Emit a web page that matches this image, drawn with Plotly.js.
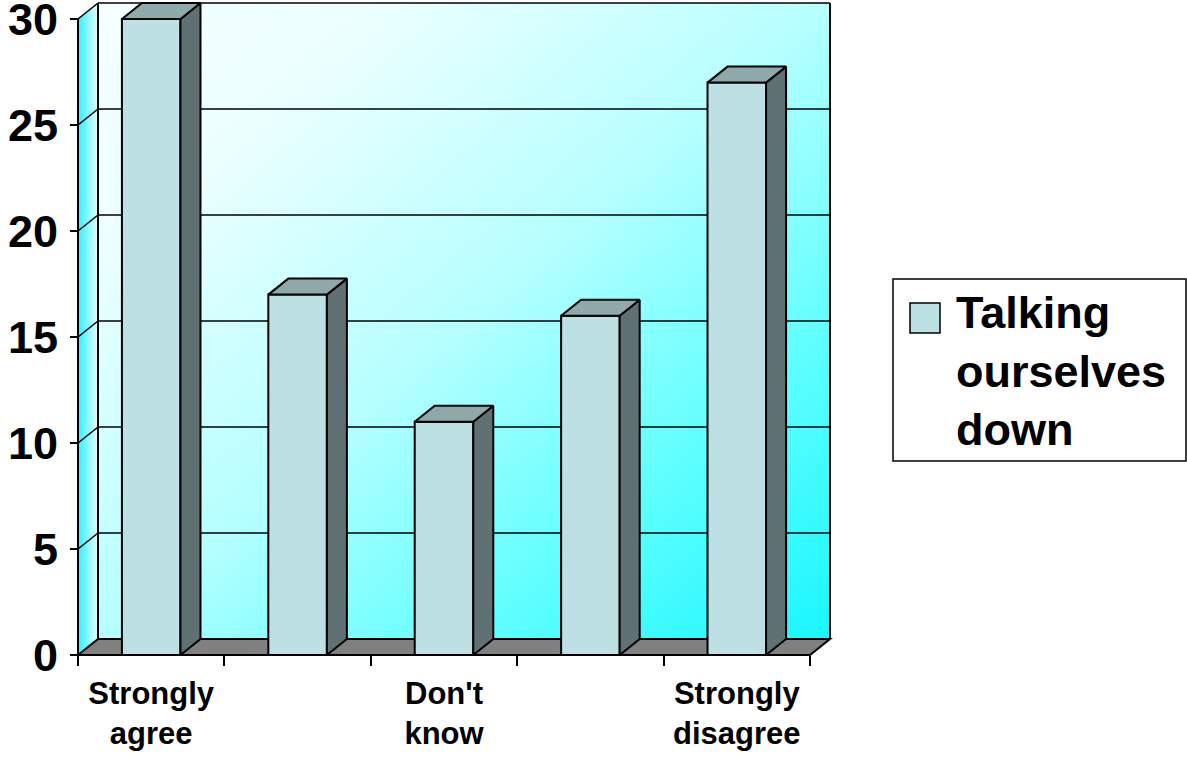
<!DOCTYPE html>
<html><head><meta charset="utf-8">
<script src="https://cdn.plot.ly/plotly-3.0.1.min.js"></script>
<style>html,body{margin:0;padding:0;background:#fff;} #chart{width:1187px;height:757px;}</style>
</head><body><div id="chart"></div>
<script>
// ---- data ----
const categories = ["Strongly agree", "Agree", "Don't know", "Disagree", "Strongly disagree"];
const values = [30, 17, 11, 16, 27];
const seriesName = "Talking ourselves down";
const yTicks = [0, 5, 10, 15, 20, 25, 30];
const labelledCategories = [0, 2, 4];

// ---- styling / geometry ----
const FONT = "Liberation Sans, Arial, sans-serif";
const PXX = 146.4, PXY = 21.2, PAD = 3;   // px per category, px per unit
const DXP = 20, DYP = 16;                  // 3-D depth offset in px
const dx = DXP / PXX, dy = DYP / PXY;
const n = categories.length;
const xMin = -0.5, xMax = n - 0.5;
const yMax = yTicks[yTicks.length - 1];
const halfW = 0.2;
const FRONT = '#bce0e3', SIDE = '#5f7172', TOP = '#8fa9aa', FLOOR = '#808080';

const plotW = (xMax - xMin) * PXX + DXP + 2 * PAD;
const plotH = yMax * PXY + DYP + 2 * PAD;
const mL = 78 - PAD, mB = 757 - 655 - PAD;
const mT = 757 - mB - plotH;
const mR = 1187 - mL - plotW;
const pX = px => (px - mL) / plotW;
const pY = py => (757 - mB - py) / plotH;

// ---- bar side and top faces, derived from values ----
const sideX = [], sideY = [], topX = [], topY = [];
values.forEach((v, i) => {
  const l = i - halfW, r = i + halfW;
  sideX.push(r, r + dx, r + dx, r, r, null); sideY.push(0, dy, v + dy, v, 0, null);
  topX.push(l, l + dx, r + dx, r, l, null);  topY.push(v, v + dy, v + dy, v, v, null);
});

// ---- walls background (gradient) ----
const W = (xMax - xMin) * PXX + DXP, H = yMax * PXY + DYP;
const svg = `<svg xmlns="http://www.w3.org/2000/svg" width="${W}" height="${H}" viewBox="0 0 ${W} ${H}" preserveAspectRatio="none">
<defs><linearGradient id="bw" x1="0" y1="0" x2="1" y2="1">
<stop offset="0" stop-color="#f6ffff"/><stop offset="0.2" stop-color="#ecffff"/><stop offset="0.5" stop-color="#b6ffff"/><stop offset="0.75" stop-color="#62ffff"/><stop offset="1" stop-color="#18f6ff"/></linearGradient>
<linearGradient id="lw" x1="0" y1="0" x2="1" y2="0"><stop offset="0" stop-color="#2ef0ff"/><stop offset="1" stop-color="#e6ffff"/></linearGradient></defs>
<rect x="${DXP}" y="0" width="${W - DXP}" height="${H - DYP}" fill="url(#bw)"/>
<polygon points="0,${DYP} ${DXP},0 ${DXP},${H - DYP} 0,${H}" fill="url(#lw)"/></svg>`;

// ---- shapes: wall outlines, gridlines, floor ----
const ln = (x0, y0, x1, y1, w) => ({type: 'line', xref: 'x', yref: 'y', x0, y0, x1, y1, layer: 'between', line: {color: '#000', width: w || 2}});
const shapes = [];
yTicks.forEach(v => {
  if (v === 0) return;
  shapes.push(ln(xMin, v, xMin + dx, v + dy, 1.6));
  shapes.push(ln(xMin + dx, v + dy, xMax + dx, v + dy, 1.6));
});
shapes.push(ln(xMin, 0, xMin, yMax));
shapes.push(ln(xMin + dx, 0 + dy, xMin + dx, yMax + dy));
shapes.push(ln(xMax + dx, dy, xMax + dx, yMax + dy));
shapes.push({type: 'path', xref: 'x', yref: 'y', layer: 'between',
  path: `M${xMin},0 L${xMax},0 L${xMax + dx},${dy} L${xMin + dx},${dy} Z`,
  fillcolor: FLOOR, line: {color: '#000', width: 2}});
// legend box
shapes.push({type: 'rect', xref: 'paper', yref: 'paper', x0: pX(893), x1: pX(1186), y0: pY(461), y1: pY(279),
  fillcolor: '#fff', line: {color: '#000', width: 1.5}, layer: 'above'});
shapes.push({type: 'rect', xref: 'paper', yref: 'paper', x0: pX(910), x1: pX(940), y0: pY(333), y1: pY(303),
  fillcolor: FRONT, line: {color: '#000', width: 1.5}, layer: 'above'});

const traces = [
  {type: 'bar', x: categories.map((c, i) => i), y: values, width: 2 * halfW, name: seriesName,
   marker: {color: FRONT, line: {color: '#000', width: 2}}, hoverinfo: 'skip', showlegend: false},
  {type: 'scatter', mode: 'lines', x: sideX, y: sideY, fill: 'toself', fillcolor: SIDE,
   line: {color: '#000', width: 2}, hoverinfo: 'skip', showlegend: false},
  {type: 'scatter', mode: 'lines', x: topX, y: topY, fill: 'toself', fillcolor: TOP,
   line: {color: '#000', width: 2}, hoverinfo: 'skip', showlegend: false}
];

const layout = {
  width: 1187, height: 757,
  margin: {l: mL, r: mR, t: mT, b: mB, pad: 0},
  paper_bgcolor: '#fff', plot_bgcolor: 'rgba(0,0,0,0)',
  showlegend: false,
  font: {family: FONT, color: '#000'},
  xaxis: {
    range: [xMin - PAD / PXX, xMax + dx + PAD / PXX], anchor: 'free', position: PAD / plotH,
    showgrid: false, zeroline: false, showline: false, fixedrange: true,
    tickmode: 'array', tickvals: labelledCategories,
    ticktext: labelledCategories.map(i => categories[i].replace(' ', '<br>')),
    ticks: '', ticklabelstandoff: 17,
    tickfont: {family: FONT, size: 31, weight: 'bold', color: '#000'},
    minor: {tickvals: categories.map((c, i) => i - 0.5).concat([xMax]), ticks: 'outside', ticklen: 10, tickwidth: 2, tickcolor: '#000', showgrid: false}
  },
  yaxis: {
    range: [-PAD / PXY, yMax + dy + PAD / PXY], anchor: 'free', position: PAD / plotW,
    showgrid: false, zeroline: false, showline: false, fixedrange: true,
    tickmode: 'array', tickvals: yTicks, ticks: 'outside', ticklen: 8, tickwidth: 2, tickcolor: '#000',
    ticklabelstandoff: 3, ticklabeloverflow: 'allow',
    tickfont: {family: FONT, size: 45, weight: 'bold', color: '#000'}
  },
  images: [{source: 'data:image/svg+xml;base64,' + btoa(svg), xref: 'x', yref: 'y',
    x: xMin, y: yMax + dy, sizex: xMax - xMin + dx, sizey: yMax + dy,
    xanchor: 'left', yanchor: 'top', sizing: 'stretch', layer: 'below'}],
  shapes: shapes,
  annotations: [{xref: 'paper', yref: 'paper', x: pX(954), y: pY(371), xanchor: 'left', yanchor: 'middle',
    align: 'left', showarrow: false, text: seriesName.replace(/ /g, '<br>'),
    font: {family: FONT, size: 45, weight: 'bold', color: '#000'}}]
};

Plotly.newPlot('chart', traces, layout, {staticPlot: true, displayModeBar: false});
</script></body></html>
